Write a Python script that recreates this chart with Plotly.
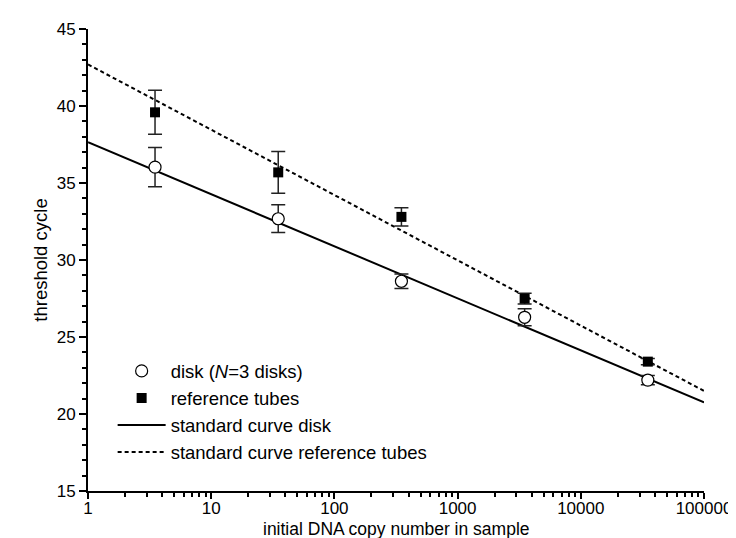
import plotly.graph_objects as go

# Data
copies = [3.5, 35, 350, 3500, 35000]
disk_ct = [36.03, 32.68, 28.62, 26.28, 22.2]
disk_err = [1.28, 0.9, 0.47, 0.55, 0.3]
tube_ct = [39.59, 35.69, 32.8, 27.49, 23.4]
tube_err = [1.43, 1.36, 0.6, 0.35, 0.2]

curve_x = [1, 100000]
disk_curve = [37.65, 20.75]
tube_curve = [42.7, 21.5]

x_tickvals = [1, 10, 100, 1000, 10000, 100000]
x_ticktext = ["1", "10", "100", "1000", "10000", "100000"]
x_minor = [k * 10 ** n for n in range(5) for k in range(2, 10)]

x_title = "initial DNA copy number in sample"
y_title = "threshold cycle"

FONT = "Liberation Sans, Arial, sans-serif"
fig = go.Figure()

fig.add_trace(go.Scatter(
    x=curve_x, y=disk_curve, mode="lines", name="standard curve disk",
    line=dict(color="black", width=2), legendrank=3,
))
fig.add_trace(go.Scatter(
    x=curve_x, y=tube_curve, mode="lines", name="standard curve reference tubes",
    line=dict(color="black", width=2, dash="4px,3px"), legendrank=4,
))
fig.add_trace(go.Scatter(
    x=copies, y=disk_ct, mode="markers", name="disk (<i>N</i>=3 disks)",
    marker=dict(symbol="circle", size=12, color="white", line=dict(width=1.2, color="black")),
    error_y=dict(type="data", array=disk_err, visible=True, color="#222", thickness=1.5, width=7),
    legendrank=1,
))
fig.add_trace(go.Scatter(
    x=copies, y=tube_ct, mode="markers", name="reference tubes",
    marker=dict(symbol="square", size=10, color="black"),
    error_y=dict(type="data", array=tube_err, visible=True, color="#222", thickness=1.5, width=7),
    legendrank=2,
))

fig.update_layout(
    width=736, height=538,
    margin=dict(l=80, r=34, t=21, b=55),
    paper_bgcolor="white", plot_bgcolor="white",
    font=dict(family=FONT, size=17, color="black"),
    showlegend=True,
    legend=dict(x=0.04, y=0.30, xanchor="left", yanchor="top",
                bgcolor="rgba(0,0,0,0)", font=dict(size=18.5, family=FONT),
                tracegroupgap=0, itemwidth=48, traceorder="normal"),
    xaxis=dict(
        type="log", range=[0, 5], showgrid=False, zeroline=False,
        showline=True, linecolor="black", linewidth=2,
        ticks="outside", ticklen=6, tickwidth=1.5, tickcolor="black",
        tickvals=x_tickvals, ticktext=x_ticktext, tickfont=dict(size=17),
        ticklabelstandoff=-5,
        minor=dict(tickmode="array", tickvals=x_minor, ticks="outside",
                   ticklen=4, tickwidth=1.5, tickcolor="black", showgrid=False),
    ),
    yaxis=dict(
        range=[15, 45], showgrid=False, zeroline=False,
        showline=True, linecolor="black", linewidth=2,
        ticks="outside", ticklen=7, tickwidth=1.5, tickcolor="black",
        dtick=5, tick0=15, tickfont=dict(size=17),
        minor=dict(dtick=1, ticks="outside", ticklen=4, tickwidth=1.5,
                   tickcolor="black", showgrid=False),
        title=dict(text=y_title, font=dict(size=18.5), standoff=4),
    ),
    annotations=[dict(
        text=x_title, xref="paper", yref="paper", x=0.5, y=0, yshift=-38,
        xanchor="center", yanchor="middle", showarrow=False,
        font=dict(size=17.5, family=FONT),
    )],
)

fig.write_html("out.html")
